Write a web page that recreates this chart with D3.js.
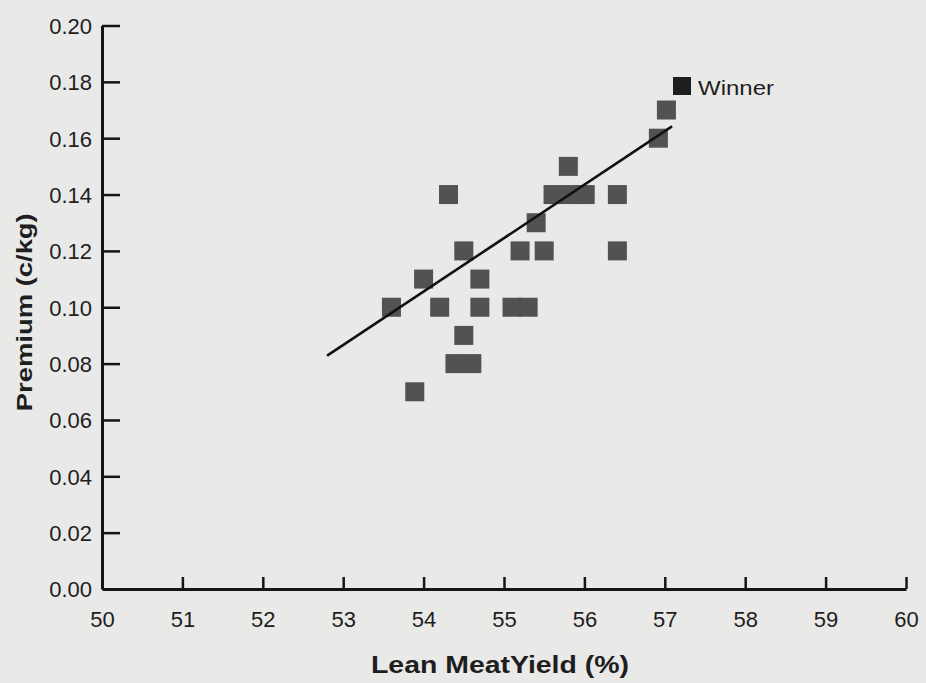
<!DOCTYPE html>
<html>
<head>
<meta charset="utf-8">
<script src="https://cdn.jsdelivr.net/npm/d3@7"></script>
<style>
  html, body { margin: 0; padding: 0; background: #e9e9e7; }
  svg { display: block; }
  text { font-family: "Liberation Sans", Arial, Helvetica, sans-serif; fill: #1e1e1e; }
</style>
</head>
<body>
<svg id="chart" width="926" height="683"></svg>
<script>
// ---- data ----
const leanYield = [55.80, 54.31, 55.61, 55.80, 56.01, 56.41, 55.40, 54.50, 55.20, 55.50, 56.41,
                   54.00, 54.70, 53.60, 54.20, 54.70, 55.10, 55.30, 54.50, 54.39, 54.60, 53.89,
                   56.92, 57.02];
const premium   = [0.15, 0.14, 0.14, 0.14, 0.14, 0.14, 0.13, 0.12, 0.12, 0.12, 0.12,
                   0.11, 0.11, 0.10, 0.10, 0.10, 0.10, 0.10, 0.09, 0.08, 0.08, 0.07,
                   0.16, 0.17];
const trendX = [52.81, 57.08];
const trendY = [0.083, 0.164];
const xTicks = [50, 51, 52, 53, 54, 55, 56, 57, 58, 59, 60];
const yTicks = [0.00, 0.02, 0.04, 0.06, 0.08, 0.10, 0.12, 0.14, 0.16, 0.18, 0.20];
const legendLabel = "Winner";
const xTitle = "Lean MeatYield (%)";
const yTitle = "Premium (c/kg)";

const points = leanYield.map((v, i) => ({ x: v, y: premium[i] }));

const svg = d3.select("#chart");
const x = d3.scaleLinear().domain([50, 60]).range([102, 906]);
const y = d3.scaleLinear().domain([0, 0.20]).range([589, 25.5]);

// ---- axes ----
const xAxis = d3.axisBottom(x).tickValues(xTicks).tickFormat(d3.format("d"))
  .tickSizeInner(-12).tickSizeOuter(0);
const gx = svg.append("g").attr("transform", `translate(0,${y(0)})`).call(xAxis);
gx.select(".domain").attr("stroke", "#151515").attr("stroke-width", 3);
gx.selectAll(".tick line").attr("stroke", "#151515").attr("stroke-width", 2.5);
gx.selectAll(".tick").filter(d => d === 50).select("line").remove();
gx.selectAll(".tick text").attr("font-size", 22).attr("dy", "0.71em").attr("y", 22);

const yAxis = d3.axisLeft(y).tickValues(yTicks).tickFormat(d3.format(".2f"))
  .tickSizeInner(-18).tickSizeOuter(0);
const gy = svg.append("g").attr("transform", `translate(${x(50)},0)`).call(yAxis);
gy.select(".domain").attr("stroke", "#151515").attr("stroke-width", 3);
gy.selectAll(".tick line").attr("stroke", "#151515").attr("stroke-width", 2.5);
gy.selectAll(".tick").filter(d => d === 0).select("line").remove();
gy.selectAll(".tick text").attr("font-size", 22).attr("x", -10).attr("dy", "0.36em");

// ---- axis titles ----
svg.append("text")
  .attr("x", x(55) - 4).attr("y", 673)
  .attr("text-anchor", "middle")
  .attr("font-size", 23).attr("font-weight", "bold")
  .attr("textLength", 258).attr("lengthAdjust", "spacingAndGlyphs")
  .text(xTitle);

svg.append("text")
  .attr("transform", `translate(32,${y(0.1) + 5}) rotate(-90)`)
  .attr("text-anchor", "middle")
  .attr("font-size", 22).attr("font-weight", "bold")
  .attr("textLength", 198).attr("lengthAdjust", "spacingAndGlyphs")
  .text(yTitle);

// ---- markers ----
const s = 19;
svg.append("g").selectAll("rect").data(points).join("rect")
  .attr("x", d => x(d.x) - s / 2)
  .attr("y", d => y(d.y) - s / 2)
  .attr("width", s).attr("height", s)
  .attr("fill", "#525252");

// ---- trend line ----
svg.append("line")
  .attr("x1", x(trendX[0])).attr("y1", y(trendY[0]))
  .attr("x2", x(trendX[1])).attr("y2", y(trendY[1]))
  .attr("stroke", "#111").attr("stroke-width", 2.6).attr("stroke-linecap", "round");

// ---- legend ----
svg.append("rect").attr("x", 673).attr("y", 77).attr("width", 18).attr("height", 18).attr("fill", "#1e1e1e");
svg.append("text").attr("x", 698).attr("y", 95)
  .attr("font-size", 20)
  .attr("textLength", 76).attr("lengthAdjust", "spacingAndGlyphs")
  .text(legendLabel);
</script>
</body>
</html>
